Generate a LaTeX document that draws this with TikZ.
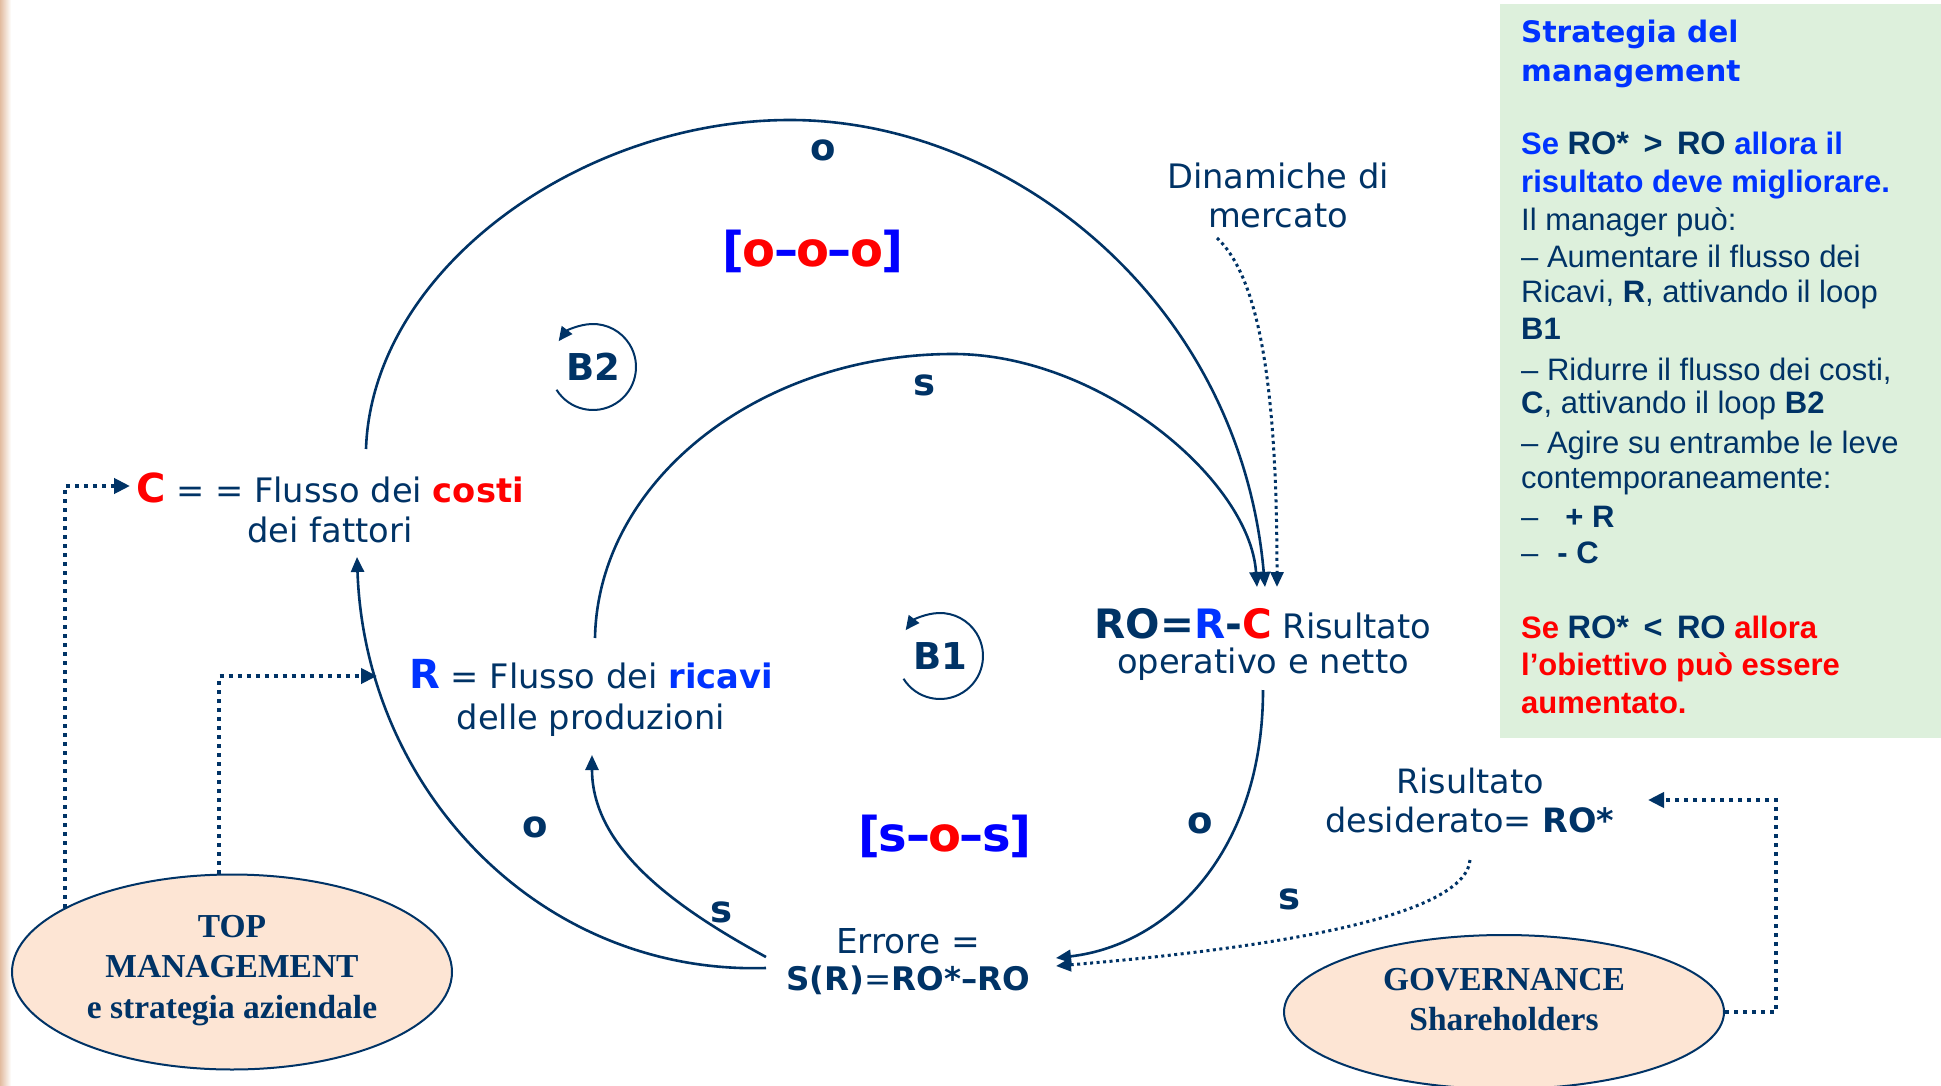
\documentclass[tikz,border=0pt]{standalone}
\usepackage{fontspec}
\setmainfont{DejaVu Sans}
\newfontfamily\dv{DejaVu Sans}
\newfontfamily\arl{Liberation Sans}
\newfontfamily\tms{Liberation Serif}
\usetikzlibrary{arrows.meta,shapes.geometric,calc}

\definecolor{navy}{RGB}{0,51,102}
\definecolor{rblue}{RGB}{0,51,255}
\definecolor{pblue}{RGB}{0,0,255}
\definecolor{rred}{RGB}{255,0,0}
\definecolor{peach}{RGB}{253,229,212}
\definecolor{mint}{RGB}{221,240,220}
\definecolor{tanedge}{RGB}{226,188,160}

\tikzset{
  lbl/.style={inner sep=0pt, anchor=base, text=navy, font=\dv\fontsize{33.7}{40}\selectfont},
  sign/.style={inner sep=0pt, text=navy, font=\dv\bfseries\fontsize{37}{40}\selectfont},
  flow/.style={draw=navy, line width=2.6pt, -{Triangle[length=15pt,width=13pt]}},
  loopline/.style={draw=navy, line width=2pt, -{Triangle[length=14pt,width=13pt]}},
  feed/.style={draw=navy, line width=4pt, dash pattern=on 4pt off 5pt, -{Triangle[length=16pt,width=15pt]}},
  thinfeed/.style={draw=navy, line width=3pt, dash pattern=on 3pt off 3.5pt, -{Triangle[length=15pt,width=13pt]}},
  actor/.style={ellipse, draw=navy, line width=2pt, fill=peach, inner sep=0pt},
  actxt/.style={inner sep=0pt, anchor=base, text=navy, font=\tms\bfseries\fontsize{33.5}{40}\selectfont},
  ptxt/.style={inner sep=0pt, anchor=base west, text=navy, font=\arl\fontsize{31}{37}\selectfont},
  pbold/.style={ptxt, font=\arl\bfseries\fontsize{31}{37}\selectfont},
  ptitle/.style={ptxt, text=rblue, font=\dv\bfseries\fontsize{29.6}{37}\selectfont}
}

\begin{document}
\begin{tikzpicture}[x=1pt,y=1pt]
\useasboundingbox (0,0) rectangle (1941,-1086);
\fill[white] (0,0) rectangle (1941,-1086);
\shade[left color=tanedge, right color=white] (0,0) rectangle (11,-1086);

% strategy panel
\fill[mint] (1500,-4) rectangle (1941,-738);
\node[ptitle] (P1) at (1521,-43) {Strategia del};
\node[ptitle] (P2) at (1521,-82) {management};
\node[pbold] (P3) at (1521,-155) {\textcolor{rblue}{Se} {\fontsize{32.5}{37}\selectfont RO*\, >\, RO} \textcolor{rblue}{allora il}};
\node[pbold, text=rblue] (P4) at (1521,-193) {risultato deve migliorare.};
\node[ptxt] (P5) at (1521,-230) {Il manager può:};
\node[ptxt] (P6) at (1521,-267) {– Aumentare il flusso dei};
\node[ptxt] (P7) at (1521,-302) {Ricavi, \textbf{R}, attivando il loop};
\node[pbold] (P8) at (1521,-339) {B1};
\node[ptxt] (P9) at (1521,-380) {– Ridurre il flusso dei costi,};
\node[ptxt] (P10) at (1521,-413) {\textbf{C}, attivando il loop \textbf{B2}};
\node[ptxt] (P11) at (1521,-453) {– Agire su entrambe le leve};
\node[ptxt] (P12) at (1521,-488) {contemporaneamente:};
\node[ptxt] (P13) at (1521,-527) {–\hspace{27pt}\textbf{+ R}};
\node[ptxt] (P14) at (1521,-563) {–\hspace{19pt}\textbf{- C}};
\node[pbold] (P15) at (1521,-638) {\textcolor{rred}{Se} {\fontsize{32.5}{37}\selectfont RO*\, <\, RO} \textcolor{rred}{allora}};
\node[pbold, text=rred] (P16) at (1521,-675) {l’obiettivo può essere};
\node[pbold, text=rred] (P17) at (1521,-713) {aumentato.};

% variables
\node[lbl] (C1) at (330,-502) {{\color{rred}\bfseries\fontsize{40}{40}\selectfont C} = = Flusso dei {\color{rred}\bfseries costi}};
\node[lbl] (C2) at (330,-542) {dei fattori};
\node[lbl] (R1) at (591,-688) {{\color{rblue}\bfseries\fontsize{40}{40}\selectfont R} = Flusso dei {\color{rblue}\bfseries ricavi}};
\node[lbl] (R2) at (591,-729) {delle produzioni};
\node[lbl] (RO1) at (1263,-638) {{\bfseries\fontsize{40.5}{40}\selectfont RO=\textcolor{rblue}{R}-\textcolor{rred}{C}} Risultato};
\node[lbl] (RO2) at (1263,-673) {operativo e netto};
\node[lbl, font=\dv\fontsize{34.3}{40}\selectfont] (E1) at (908,-953) {Errore =};
\node[lbl, font=\dv\fontsize{32.5}{40}\selectfont] (E2) at (908,-990) {{\bfseries S(R)}={\bfseries RO*–RO}};
\node[lbl, font=\dv\fontsize{33.5}{40}\selectfont] (D1) at (1470,-793) {Risultato};
\node[lbl, font=\dv\fontsize{33.5}{40}\selectfont] (D2) at (1470,-832) {desiderato= {\bfseries RO*}};
\node[lbl] (M1) at (1278,-189) {Dinamiche di};
\node[lbl] (M2) at (1278,-228) {mercato};

% loop markers
\node[sign] (B2) at (593,-367) {B2};
\node[sign] (B1) at (940,-656) {B1};
\draw[loopline] ($(B2)+(212:43pt)$) arc[start angle=212, end angle=503, radius=43pt];
\draw[loopline] ($(B1)+(212:43pt)$) arc[start angle=212, end angle=503, radius=43pt];

\node[sign, font=\dv\bfseries\fontsize{48}{48}\selectfont, text=pblue] (LB2) at (813,-251)
  {[\kern-1.5pt\textcolor{rred}{o}\kern-1.5pt–\kern-1.5pt\textcolor{rred}{o}\kern-1.5pt–\kern-1.5pt\textcolor{rred}{o}\kern-1.5pt]};
\node[sign, font=\dv\bfseries\fontsize{48}{48}\selectfont, text=pblue] (LB1) at (945,-836)
  {[\kern-1.5pt s\kern-1.5pt–\kern-1.5pt\textcolor{rred}{o}\kern-1.5pt–\kern-1.5pt s\kern-1.5pt]};

% causal links
\draw[flow] ([shift={(36,53)}]C1.base) .. controls (372,-270) and (580,-120) .. (790,-120)
  .. controls (1010,-120) and (1240,-300) .. ([shift={(2,51)}]RO1.base);
\draw[flow] ([shift={(4,50)}]R1.base) .. controls (598,-480) and (760,-354) .. (953,-354)
  .. controls (1100,-354) and (1250,-480) .. ([shift={(-6,51)}]RO1.base);
\draw[thinfeed] ([shift={(-61,-10)}]M2.base) .. controls (1262,-280) and (1277,-400) .. ([shift={(14,51)}]RO1.base);
\draw[flow] ([shift={(0,-17)}]RO2.base) .. controls (1263,-850) and (1170,-945) .. ([shift={(148,32)}]E2.base);
\draw[thinfeed] ([shift={(0,-28)}]D2.base) .. controls (1465,-920) and (1250,-950) .. ([shift={(148,24)}]E2.base);
\draw[flow] ([shift={(-142,33)}]E2.base) .. controls (680,-910) and (592,-850) .. ([shift={(1,-26)}]R2.base);
\draw[flow] ([shift={(-142,22)}]E2.base) .. controls (540,-975) and (365,-790) .. ([shift={(27,-15)}]C2.base);

% polarity signs
\node[sign] (so1) at (823,-150) {o};
\node[sign] (ss1) at (925,-385) {s};
\node[sign] (so2) at (535,-827) {o};
\node[sign] (ss2) at (722,-912) {s};
\node[sign] (so3) at (1200,-823) {o};
\node[sign] (ss3) at (1289,-899) {s};

% actors
\node[actor, minimum width=440pt, minimum height=195pt] (TM) at (232,-972) {};
\node[actxt] (TM1) at (232,-937) {TOP};
\node[actxt] (TM2) at (232,-977) {MANAGEMENT};
\node[actxt] (TM3) at (232,-1018) {e strategia aziendale};
\node[actor, minimum width=440pt, minimum height=154pt] (GOV) at (1504,-1012) {};
\node[actxt] (GOV1) at (1504,-990) {GOVERNANCE};
\node[actxt] (GOV2) at (1504,-1030) {Shareholders};

% governance levers
\draw[feed] (TM.159) |- ([shift={(-200,16)}]C1.base);
\draw[feed] ([xshift=-13pt]TM.north) |- ([shift={(-214,12)}]R1.base);
\draw[feed] (GOV.east) -- ++(51,0) |- ([shift={(178,-7)}]D1.base);
\end{tikzpicture}
\end{document}
